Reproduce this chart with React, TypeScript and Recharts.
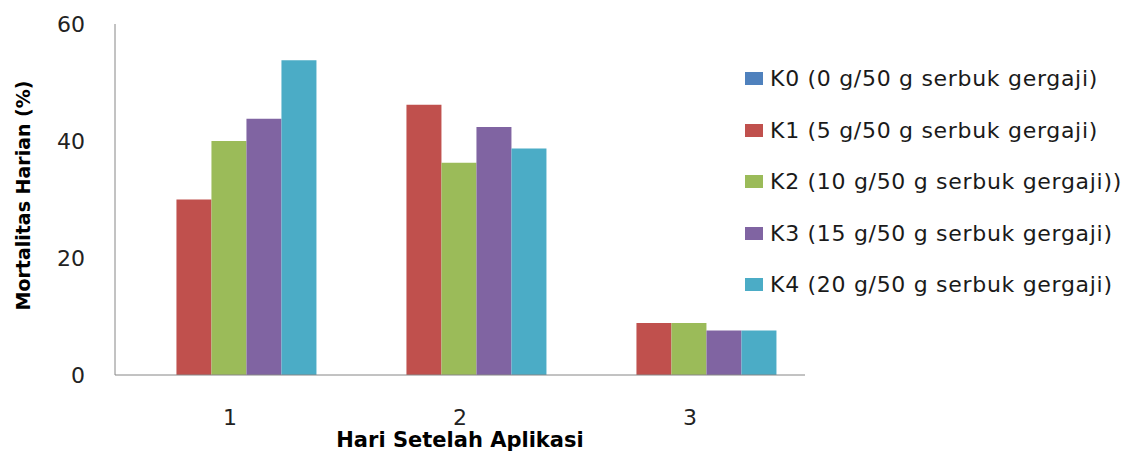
import React from 'react';
import { BarChart, Bar, XAxis, YAxis } from 'recharts';

const categories = ['1', '2', '3'];
const k0 = [0, 0, 0];
const k1 = [30, 46.2, 8.9];
const k2 = [40, 36.3, 8.9];
const k3 = [43.8, 42.4, 7.6];
const k4 = [53.8, 38.7, 7.6];
const yTicks = [0, 20, 40, 60];

const seriesNames = [
  'K0 (0 g/50 g serbuk gergaji)',
  'K1 (5 g/50 g serbuk gergaji)',
  'K2 (10 g/50 g serbuk gergaji))',
  'K3 (15 g/50 g serbuk gergaji)',
  'K4 (20 g/50 g serbuk gergaji)',
];
const seriesKeys = ['K0', 'K1', 'K2', 'K3', 'K4'];
const seriesValues = [k0, k1, k2, k3, k4];
const colors = ['#4F81BD', '#C0504D', '#9BBB59', '#8064A2', '#4BACC6'];

const data = categories.map((c, i) => {
  const row: Record<string, number | string> = { day: c };
  seriesKeys.forEach((k, j) => {
    row[k] = seriesValues[j][i];
  });
  return row;
});

const FONT = '"DejaVu Sans", sans-serif';
const AXIS_COLOR = '#868686';

const YTitle = (props: any) => {
  const vb = props.viewBox || {};
  const x = (vb.x ?? 0) - 32;
  const y = (vb.y ?? 0) + (vb.height ?? 0) / 2 - 4;
  return (
    <text
      x={x}
      y={y}
      transform={`rotate(-90 ${x} ${y})`}
      textAnchor="middle"
      dominantBaseline="central"
      fontFamily={FONT}
      fontWeight="bold"
      fontSize={19}
      fill="#000"
    >
      Mortalitas Harian (%)
    </text>
  );
};

const XTitle = (props: any) => {
  const vb = props.viewBox || {};
  const x = (vb.x ?? 0) + (vb.width ?? 0) / 2;
  const y = (vb.y ?? 0) + 72;
  return (
    <text x={x} y={y} textAnchor="middle" fontFamily={FONT} fontWeight="bold" fontSize={21} fill="#000">
      Hari Setelah Aplikasi
    </text>
  );
};

export default function App() {
  return (
    <div style={{ position: 'relative', width: 1115, height: 447 }}>
      <BarChart
        width={1115}
        height={447}
        data={data}
        margin={{ top: 16, right: 318, bottom: 30, left: 47 }}
        barCategoryGap="11.5%"
        barGap={0}
      >
        <XAxis
          dataKey="day"
          height={50}
          tickLine={false}
          tickMargin={28}
          stroke={AXIS_COLOR}
          tick={{ fill: '#222', fontSize: 22, fontFamily: FONT }}
          label={<XTitle />}
        />
        <YAxis
          width={60}
          domain={[0, 60]}
          ticks={yTicks}
          tickLine={false}
          tickMargin={24}
          stroke={AXIS_COLOR}
          tick={{ fill: '#222', fontSize: 22, fontFamily: FONT }}
          label={<YTitle />}
        />
        {seriesKeys.map((k, j) => (
          <Bar key={k} dataKey={k} name={seriesNames[j]} fill={colors[j]} isAnimationActive={false} />
        ))}
      </BarChart>
      <div style={{ position: 'absolute', left: 737, top: 45, fontFamily: FONT, fontSize: 22, letterSpacing: 0.7, color: '#1a1a1a' }}>
        {seriesNames.map((n, j) => (
          <div key={n} style={{ height: 51.5, display: 'flex', alignItems: 'center', whiteSpace: 'nowrap' }}>
            <span style={{ display: 'inline-block', width: 18, height: 13, background: colors[j], marginRight: 7 }} />
            <span>{n}</span>
          </div>
        ))}
      </div>
    </div>
  );
}
